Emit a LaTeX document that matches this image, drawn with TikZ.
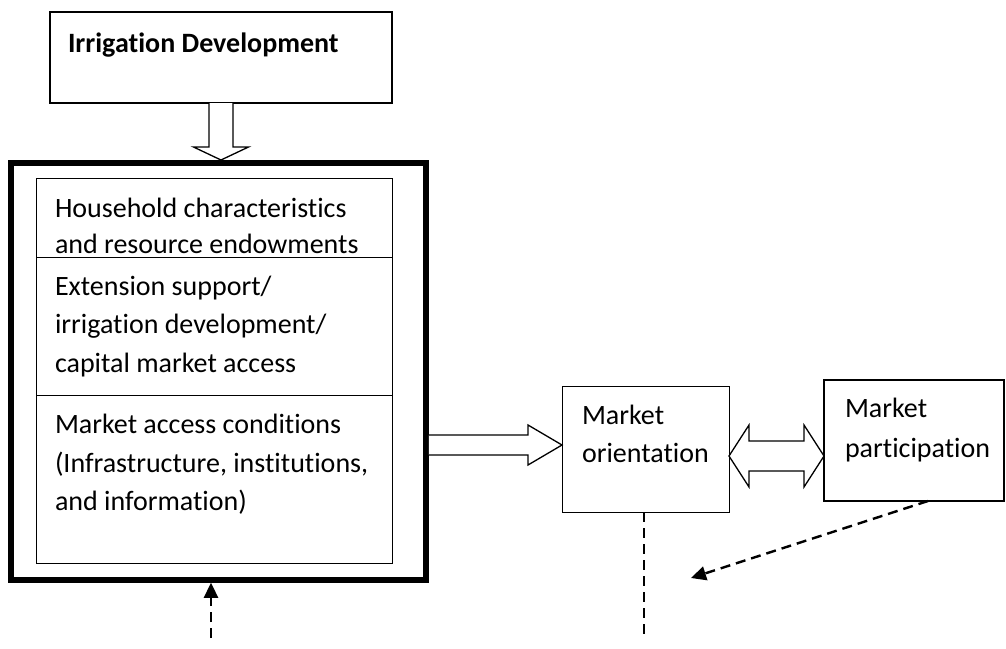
\documentclass[tikz,border=0pt]{standalone}
\usepackage{fontspec}
\setmainfont[Ligatures={NoCommon}]{Carlito}
\usetikzlibrary{arrows.meta,calc}
\begin{document}
\begin{tikzpicture}[x=1pt,y=-1pt,
  box/.style={draw, line width=1.2pt, inner sep=0pt, outer sep=0pt, anchor=north west},
  thickbox/.style={draw, line width=5.5pt, inner sep=0pt, outer sep=0pt, anchor=north west},
  txt/.style={inner sep=0pt, outer sep=0pt, anchor=base west, font=\fontsize{28}{38.5}\selectfont},
  hollow/.style={draw, line width=1.3pt, fill=white, line join=miter},
  dashline/.style={draw, line width=2.4pt, dash pattern=on 10pt off 6pt},
  tip/.style={-{Triangle[length=15pt,width=14pt]}}
]
\useasboundingbox (0,0) rectangle (1006,648);

% boxes
\node[box, minimum width=342pt, minimum height=91pt] (irr) at (50,12) {};
\node[thickbox, minimum width=415pt, minimum height=417pt] (thick) at (11,163) {};
\node[box, line width=1pt, minimum width=356pt, minimum height=385pt] (inner) at (36,178) {};
\node[box, line width=1pt, minimum width=356pt, minimum height=138pt] (ext) at (36,257) {};
\node[box, line width=1pt, minimum width=167pt, minimum height=126pt] (ori) at (562,386) {};
\node[box, minimum width=180pt, minimum height=121pt] (par) at (824,380) {};

% texts
\node[txt, font=\fontsize{28}{38}\selectfont\bfseries] (irrt) at (68,52) {Irrigation Development};
\node[txt] (hh1) at (55,217) {Household characteristics};
\node[txt] (hh2) at (55,253) {and resource endowments};
\node[txt] (ex1) at (55,295) {Extension support/};
\node[txt] (ex2) at (55,333) {irrigation development/};
\node[txt] (ex3) at (55,372) {capital market access};
\node[txt] (ma1) at (55,433) {Market access conditions};
\node[txt] (ma2) at (55,472) {(Infrastructure, institutions,};
\node[txt] (ma3) at (55,510) {and information)};
\node[txt] (or1) at (582,424) {Market};
\node[txt] (or2) at (582,462) {orientation};
\node[txt] (pa1) at (845,417) {Market};
\node[txt] (pa2) at (845,457) {participation};

% hollow arrow down
\coordinate (dt) at ($(irr.south |- thick.north)+(0,-3)$);
\draw[hollow] ($(irr.south)+(-12,0)$) -- ($(dt)+(-12,-13)$) -- ($(dt)+(-27.5,-13)$) -- (dt)
  -- ($(dt)+(27.5,-13)$) -- ($(dt)+(12,-13)$) -- ($(irr.south)+(12,0)$);

% hollow arrow right
\coordinate (rt) at ($(ori.west)+(0,-4)$);
\coordinate (rs) at ($(thick.east |- rt)+(2.75,0)$);
\draw[hollow] ($(rs)+(0,-10)$) -- ($(rt)+(-34,-10)$) -- ($(rt)+(-34,-20)$) -- (rt)
  -- ($(rt)+(-34,20)$) -- ($(rt)+(-34,10)$) -- ($(rs)+(0,10)$);

% double hollow arrow
\coordinate (lt) at ($(ori.east)+(0,7)$);
\coordinate (rt2) at (par.west |- lt);
\draw[hollow] (lt) -- ($(lt)+(20,-31)$) -- ($(lt)+(20,-15)$) -- ($(rt2)+(-20,-15)$)
  -- ($(rt2)+(-20,-31)$) -- (rt2) -- ($(rt2)+(-20,31)$) -- ($(rt2)+(-20,15)$)
  -- ($(lt)+(20,15)$) -- ($(lt)+(20,31)$) -- cycle;

% dashed lines
\coordinate (ve) at ($(ori.south)+(-1.5,125)$);
\draw[dashline] ($(ori.south)+(-1.5,0)$) -- (ve);
\coordinate (pa) at ($(par.south)+(14,0)$);
\coordinate (pe) at (691,578);
\draw[dashline, tip] (pa) -- (pe);
\coordinate (bs) at (211,638);
\draw[dashline, tip] (bs) -- ($(thick.south -| bs)+(0,2.75)$);
\end{tikzpicture}
\end{document}
